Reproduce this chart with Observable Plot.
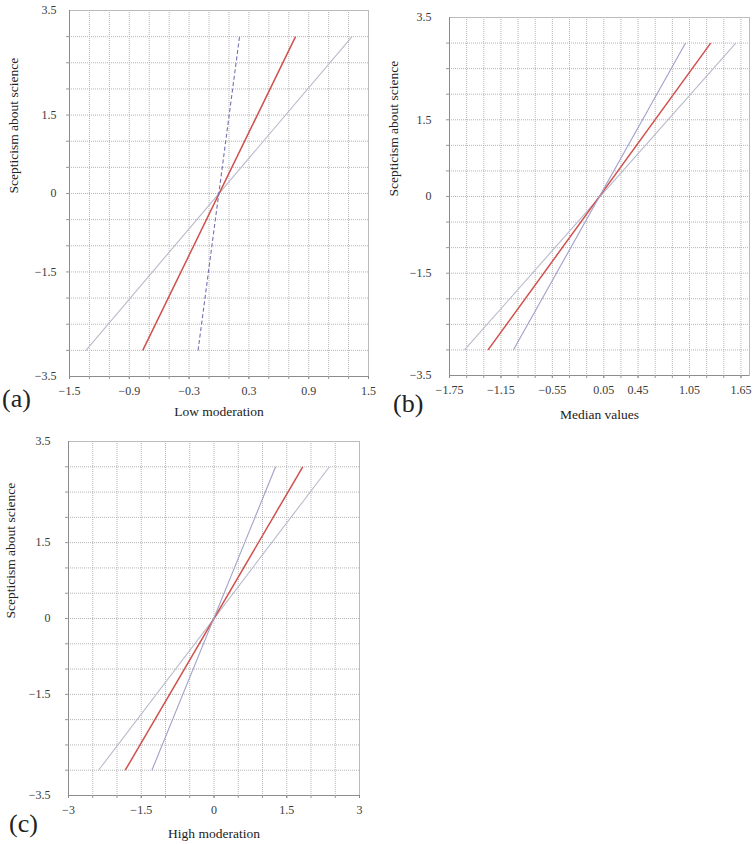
<!DOCTYPE html>
<html><head><meta charset="utf-8">
<script src="https://cdn.jsdelivr.net/npm/d3@7"></script>
<script src="https://cdn.jsdelivr.net/npm/@observablehq/plot@0.6"></script>
<style>
body{margin:0;background:#fff;}
#wrap{position:relative;width:753px;height:844px;font-family:"Liberation Serif","Times New Roman",serif;}
.panel{position:absolute;}
.panel svg, .panel svg text{font-family:"Liberation Serif","Times New Roman",serif !important;}
.tag{position:absolute;font-size:26px;line-height:1;font-family:"Liberation Serif","Times New Roman",serif;color:#222;}
</style></head><body><div id="wrap"></div>
<script>
// shared y axis
const yTickValues = [-3.5, -1.5, 0, 1.5, 3.5];
const yTickLabels = ["−3.5", "−1.5", "0", "1.5", "3.5"];
const yGridValues = [-3, -2.5, -2, -1.5, -1, -0.5, 0, 0.5, 1, 1.5, 2, 2.5, 3];
const yDomain = [-3.5, 3.5];
const yTitle = "Scepticism about science";
const seriesNames = ["wide", "fitted", "steep"];
const lineStartY = [-3, -3, -3];
const lineEndY = [3, 3, 3];

// panel (a)
const aTitle = "Low moderation";
const aXDomain = [-1.5, 1.5];
const aXTicks = [-1.5, -0.9, -0.3, 0.3, 0.9, 1.5];
const aXLabels = ["−1.5", "−0.9", "−0.3", "0.3", "0.9", "1.5"];
const aXGrid = [-1.3, -1.1, -0.9, -0.7, -0.5, -0.3, -0.1, 0.1, 0.3, 0.5, 0.7, 0.9, 1.1, 1.3];
const aStartX = [-1.335, -0.765, -0.21];
const aEndX = [1.335, 0.768, 0.206];

// panel (b)
const bTitle = "Median values";
const bXDomain = [-1.75, 1.75];
const bXTicks = [-1.75, -1.15, -0.55, 0.05, 0.45, 1.05, 1.65];
const bXLabels = ["−1.75", "−1.15", "−0.55", "0.05", "0.45", "1.05", "1.65"];
const bXGrid = [-1.55, -1.35, -1.15, -0.95, -0.75, -0.55, -0.35, -0.15, 0.05, 0.25, 0.45, 0.65, 0.85, 1.05, 1.25, 1.45, 1.65];
const bStartX = [-1.575, -1.30, -1.005];
const bEndX = [1.59, 1.297, 1.004];

// panel (c)
const cTitle = "High moderation";
const cXDomain = [-3, 3];
const cXTicks = [-3, -1.5, 0, 1.5, 3];
const cXLabels = ["−3", "−1.5", "0", "1.5", "3"];
const cXGrid = [-2.5, -2, -1.5, -1, -0.5, 0, 0.5, 1, 1.5, 2, 2.5];
const cStartX = [-2.38, -1.83, -1.28];
const cEndX = [2.38, 1.83, 1.27];

const wrap = document.getElementById("wrap");
const FONT = "'Liberation Serif', 'Times New Roman', serif";

function lineStyle(name, dashedSteep) {
  if (name === "fitted") return {stroke: "#d0504c", width: 1.5, dash: null};
  if (name === "wide") return {stroke: "#b9b9cc", width: 1.1, dash: null};
  return {stroke: dashedSteep ? "#7272b0" : "#a0a0cb", width: 1.1, dash: dashedSteep ? "4,2.5" : null};
}

function makePanel(cfg) {
  const rows = seriesNames.map((s, i) => ({s, x0: cfg.startX[i], y0: lineStartY[i], x1: cfg.endX[i], y1: lineEndY[i]}));
  const labelOf = new Map(cfg.xTicks.map((v, i) => [v, cfg.xLabels[i]]));
  const yLabelOf = new Map(yTickValues.map((v, i) => [v, yTickLabels[i]]));
  const gridStyle = {stroke: "#b4b4b4", strokeOpacity: 1, strokeDasharray: "1,1", strokeWidth: 1};
  const marks = [
    Plot.gridX(cfg.xGrid, gridStyle),
    Plot.gridY(yGridValues, gridStyle),
    Plot.frame({stroke: "#bbbbbb"}),
    Plot.ruleX([cfg.xDomain[0]], {stroke: "#8c8c8c"}),
    Plot.ruleY([yDomain[0]], {stroke: "#8c8c8c"}),
    Plot.axisX(cfg.xTicks, {tickSize: 3, tickPadding: 7, tickFormat: d => labelOf.get(d), label: null, fontSize: 12, fill: "#3a3a3a", stroke: "#888"}),
    Plot.axisX(cfg.xGrid, {tickSize: 3, tickFormat: () => "", label: null, stroke: "#999"}),
    Plot.axisY(yTickValues, {tickSize: 0, tickPadding: cfg.yPad, tickFormat: d => yLabelOf.get(d), label: null, fontSize: 12, fill: "#3a3a3a"}),
    Plot.axisY(yGridValues, {tickSize: 3, tickFormat: () => "", label: null, stroke: "#999"}),
  ];
  seriesNames.forEach(name => {
    const st = lineStyle(name, cfg.dashedSteep);
    marks.push(Plot.link(rows.filter(r => r.s === name), {
      x1: "x0", y1: "y0", x2: "x1", y2: "y1",
      stroke: st.stroke, strokeWidth: st.width, strokeDasharray: st.dash
    }));
  });
  marks.push(Plot.text([cfg.xTitle], {frameAnchor: "bottom", dy: cfg.xTitleDy, text: d => d, fontSize: 13.5, fill: "#222"}));
  marks.push(Plot.text([yTitle], {frameAnchor: "left", dx: -cfg.yTitleDx, rotate: -90, text: d => d, fontSize: 13.5, fill: "#222"}));
  const chart = Plot.plot({
    width: cfg.w, height: cfg.h,
    marginLeft: cfg.ml, marginRight: cfg.mr, marginTop: cfg.mt, marginBottom: cfg.mb,
    style: {fontFamily: FONT, background: "#fff", overflow: "visible"},
    x: {domain: cfg.xDomain},
    y: {domain: yDomain},
    marks
  });
  const div = document.createElement("div");
  div.className = "panel";
  div.style.left = cfg.left + "px";
  div.style.top = cfg.top + "px";
  div.appendChild(chart);
  wrap.appendChild(div);
  const tag = document.createElement("div");
  tag.className = "tag";
  tag.textContent = cfg.tag;
  tag.style.left = cfg.tagX + "px";
  tag.style.top = cfg.tagY + "px";
  wrap.appendChild(tag);
}

makePanel({left: 0, top: 0, w: 376, h: 420, ml: 69, mr: 8, mt: 10, mb: 44,
  xDomain: aXDomain, xTicks: aXTicks, xLabels: aXLabels, xGrid: aXGrid,
  startX: aStartX, endX: aEndX, xTitle: aTitle, xTitleDy: 39, yTitleDx: 56, yPad: 13,
  dashedSteep: true, tag: "(a)", tagX: 2, tagY: 386});
makePanel({left: 380, top: 0, w: 373, h: 420, ml: 69, mr: 4, mt: 17, mb: 45,
  xDomain: bXDomain, xTicks: bXTicks, xLabels: bXLabels, xGrid: bXGrid,
  startX: bStartX, endX: bEndX, xTitle: bTitle, xTitleDy: 43, yTitleDx: 56, yPad: 18,
  dashedSteep: false, tag: "(b)", tagX: 393, tagY: 391});
makePanel({left: 0, top: 420, w: 380, h: 424, ml: 68, mr: 21, mt: 21, mb: 49,
  xDomain: cXDomain, xTicks: cXTicks, xLabels: cXLabels, xGrid: cXGrid,
  startX: cStartX, endX: cEndX, xTitle: cTitle, xTitleDy: 42, yTitleDx: 58, yPad: 18,
  dashedSteep: false, tag: "(c)", tagX: 9, tagY: 811});
</script>
</body></html>
